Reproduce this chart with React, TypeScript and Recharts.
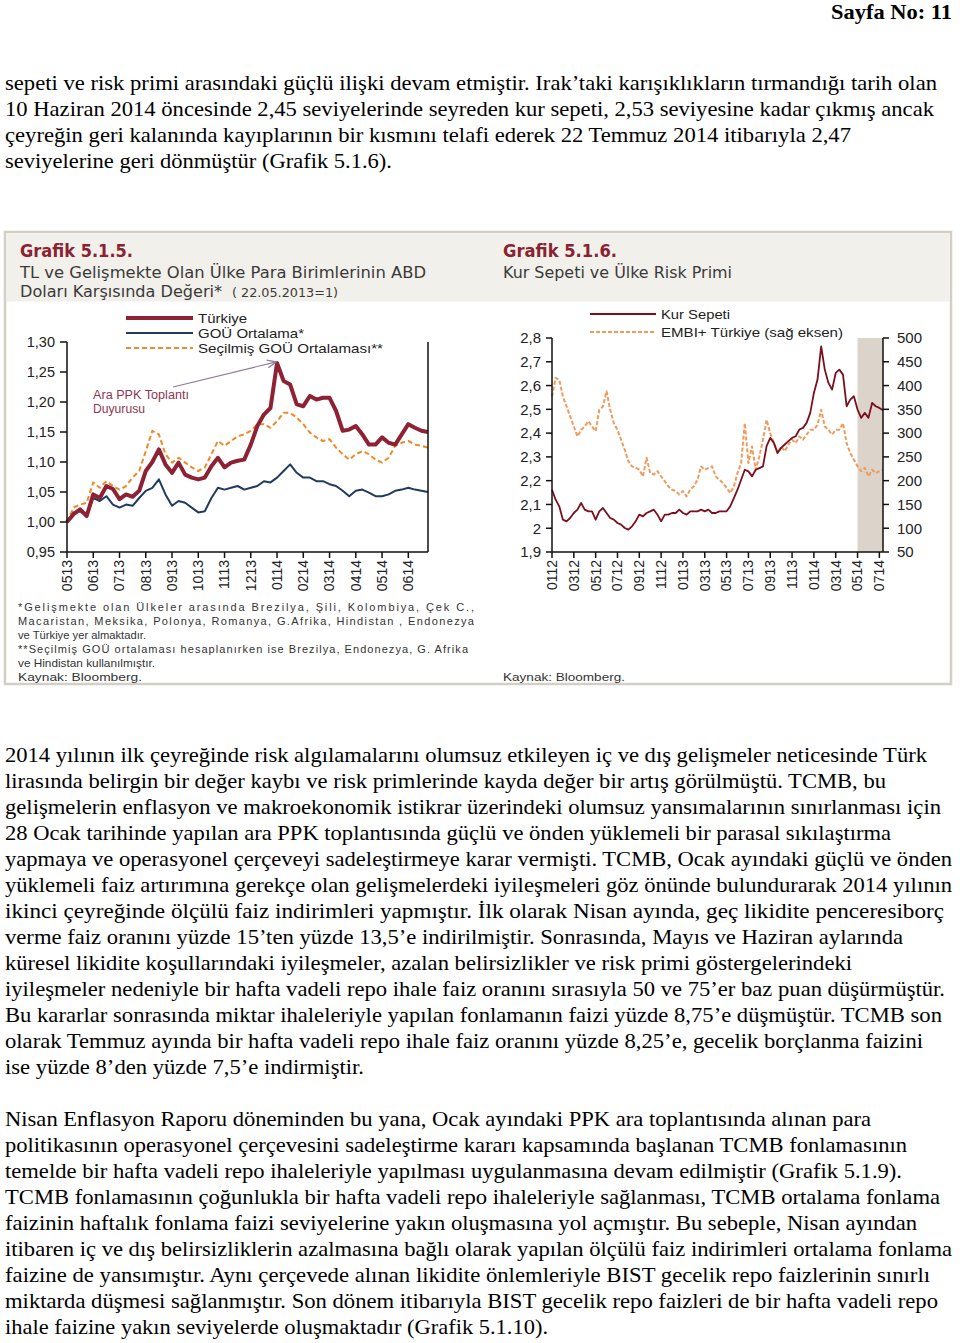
import React from 'react';
import { LineChart, Line, XAxis, YAxis, ReferenceArea, ReferenceLine } from 'recharts';

// Grafik 5.1.5 - weekly readings, 22.05.2013 = 1
const leftMonths = ['0513', '0613', '0713', '0813', '0913', '1013', '1113', '1213', '0114', '0214', '0314', '0414', '0514', '0614'];
const leftStep = 4;
const turkiye = [
  1.000, 1.013, 1.021, 1.010, 1.046, 1.040, 1.060, 1.055, 1.038, 1.046,
  1.042, 1.052, 1.085, 1.100, 1.121, 1.096, 1.082, 1.099, 1.079, 1.074,
  1.071, 1.074, 1.093, 1.107, 1.091, 1.099, 1.102, 1.104, 1.129, 1.160,
  1.179, 1.190, 1.265, 1.235, 1.229, 1.196, 1.193, 1.210, 1.204, 1.207,
  1.207, 1.185, 1.152, 1.154, 1.160, 1.146, 1.129, 1.129, 1.141, 1.132,
  1.129, 1.146, 1.163, 1.157, 1.152, 1.150,
];
const gouOrtalama = [
  1.000, 1.016, 1.018, 1.010, 1.040, 1.035, 1.043, 1.029, 1.024, 1.029,
  1.027, 1.040, 1.052, 1.057, 1.071, 1.046, 1.027, 1.035, 1.032, 1.024,
  1.016, 1.018, 1.040, 1.057, 1.054, 1.057, 1.060, 1.054, 1.057, 1.060,
  1.068, 1.066, 1.074, 1.085, 1.096, 1.082, 1.074, 1.074, 1.068, 1.068,
  1.063, 1.060, 1.052, 1.043, 1.052, 1.054, 1.049, 1.043, 1.043, 1.046,
  1.052, 1.054, 1.057, 1.054, 1.052, 1.050,
];
const secilmisGou = [
  1.000, 1.024, 1.029, 1.032, 1.066, 1.057, 1.068, 1.060, 1.054, 1.060,
  1.074, 1.085, 1.118, 1.152, 1.146, 1.113, 1.099, 1.107, 1.099, 1.091,
  1.085, 1.091, 1.113, 1.135, 1.127, 1.135, 1.143, 1.146, 1.152, 1.163,
  1.163, 1.157, 1.168, 1.182, 1.182, 1.174, 1.163, 1.149, 1.141, 1.135,
  1.138, 1.124, 1.113, 1.104, 1.113, 1.118, 1.113, 1.104, 1.099, 1.107,
  1.127, 1.132, 1.135, 1.129, 1.127, 1.124,
];
const leftValueTicks = [0.95, 1.0, 1.05, 1.1, 1.15, 1.2, 1.25, 1.3];

// Grafik 5.1.6 - three readings per month
const rightMonths = ['0112', '0312', '0512', '0712', '0912', '1112', '0113', '0313', '0513', '0713', '0913', '1113', '0114', '0314', '0514', '0714'];
const rightStep = 6;
const kurSepeti = [
  2.162, 2.120, 2.092, 2.036, 2.029, 2.043, 2.064, 2.078, 2.106, 2.078,
  2.071, 2.071, 2.036, 2.071, 2.085, 2.064, 2.043, 2.036, 2.022, 2.015,
  2.001, 1.994, 2.008, 2.029, 2.057, 2.050, 2.064, 2.071, 2.078, 2.057,
  2.029, 2.057, 2.057, 2.064, 2.064, 2.078, 2.064, 2.057, 2.071, 2.071,
  2.071, 2.078, 2.071, 2.078, 2.064, 2.064, 2.071, 2.071, 2.071, 2.092,
  2.127, 2.162, 2.204, 2.246, 2.239, 2.218, 2.246, 2.253, 2.260, 2.345,
  2.380, 2.359, 2.317, 2.338, 2.352, 2.366, 2.380, 2.387, 2.415, 2.422,
  2.443, 2.485, 2.569, 2.625, 2.765, 2.667, 2.611, 2.583, 2.653, 2.667,
  2.646, 2.513, 2.541, 2.555, 2.499, 2.464, 2.485, 2.464, 2.527, 2.513,
  2.506, 2.496,
];
const embiTurkiye = [
  377, 416, 412, 377, 356, 335, 314, 293, 307, 314,
  325, 314, 304, 349, 356, 388, 349, 321, 307, 286,
  265, 241, 230, 227, 223, 209, 248, 216, 213, 220,
  209, 199, 188, 181, 178, 171, 178, 167, 181, 188,
  202, 230, 223, 227, 230, 209, 202, 195, 185, 174,
  188, 216, 237, 321, 237, 272, 223, 251, 286, 328,
  300, 279, 258, 272, 262, 276, 286, 279, 293, 286,
  297, 307, 307, 318, 349, 314, 307, 297, 307, 307,
  321, 279, 258, 244, 230, 220, 227, 209, 223, 216,
  220, 223,
];
const kurTicks = [1.9, 2.0, 2.1, 2.2, 2.3, 2.4, 2.5, 2.6, 2.7, 2.8];
const embiTicks = [50, 100, 150, 200, 250, 300, 350, 400, 450, 500];
const shadedFrom = '0514';

const leftData = turkiye.map((v, i) => ({ i, tr: v, gou: gouOrtalama[i], sec: secilmisGou[i] }));
const rightData = kurSepeti.map((v, i) => ({ i, kur: v, embi: embiTurkiye[i] }));

const leftSeries = [
  { key: 'tr', name: 'Türkiye', color: '#8e2234', width: 4, dash: undefined, textEnd: 247 },
  { key: 'gou', name: 'GOÜ Ortalama*', color: '#213b5e', width: 2, dash: undefined, textEnd: 304 },
  { key: 'sec', name: 'Seçilmiş GOÜ Ortalaması**', color: '#ee8a2b', width: 2, dash: '5 3', textEnd: 383 },
];
const rightSeries = [
  { key: 'kur', name: 'Kur Sepeti', color: '#7c0f1c', width: 1.8, dash: undefined, axis: 'l', textEnd: 730 },
  { key: 'embi', name: 'EMBI+ Türkiye (sağ eksen)', color: '#ef9b5c', width: 2, dash: '4 2', axis: 'r', textEnd: 843 },
];

const para1 = [
  ['sepeti ve risk primi arasındaki güçlü ilişki devam etmiştir. Irak’taki karışıklıkların tırmandığı tarih olan', 937],
  ['10 Haziran 2014 öncesinde 2,45 seviyelerinde seyreden kur sepeti, 2,53 seviyesine kadar çıkmış ancak', 934],
  ['çeyreğin geri kalanında kayıplarının bir kısmını telafi ederek 22 Temmuz 2014 itibarıyla 2,47', 851],
  ['seviyelerine geri dönmüştür (Grafik 5.1.6).', 392],
];
const para2 = [
  ['2014 yılının ilk çeyreğinde risk algılamalarını olumsuz etkileyen iç ve dış gelişmeler neticesinde Türk', 927],
  ['lirasında belirgin bir değer kaybı ve risk primlerinde kayda değer bir artış görülmüştü. TCMB, bu', 886],
  ['gelişmelerin enflasyon ve makroekonomik istikrar üzerindeki olumsuz yansımalarının sınırlanması için', 941],
  ['28 Ocak tarihinde yapılan ara PPK toplantısında güçlü ve önden yüklemeli bir parasal sıkılaştırma', 891],
  ['yapmaya ve operasyonel çerçeveyi sadeleştirmeye karar vermişti. TCMB, Ocak ayındaki güçlü ve önden', 952],
  ['yüklemeli faiz artırımına gerekçe olan gelişmelerdeki iyileşmeleri göz önünde bulundurarak 2014 yılının', 952],
  ['ikinci çeyreğinde ölçülü faiz indirimleri yapmıştır. İlk olarak Nisan ayında, geç likidite penceresiborç', 944],
  ['verme faiz oranını yüzde 15’ten yüzde 13,5’e indirilmiştir. Sonrasında, Mayıs ve Haziran aylarında', 903],
  ['küresel likidite koşullarındaki iyileşmeler, azalan belirsizlikler ve risk primi göstergelerindeki', 852],
  ['iyileşmeler nedeniyle bir hafta vadeli repo ihale faiz oranını sırasıyla 50 ve 75’er baz puan düşürmüştür.', 945],
  ['Bu kararlar sonrasında miktar ihaleleriyle yapılan fonlamanın faizi yüzde 8,75’e düşmüştür. TCMB son', 942],
  ['olarak Temmuz ayında bir hafta vadeli repo ihale faiz oranını yüzde 8,25’e, gecelik borçlanma faizini', 923],
  ['ise yüzde 8’den yüzde 7,5’e indirmiştir.', 364],
];
const para3 = [
  ['Nisan Enflasyon Raporu döneminden bu yana, Ocak ayındaki PPK ara toplantısında alınan para', 871],
  ['politikasının operasyonel çerçevesini sadeleştirme kararı kapsamında başlanan TCMB fonlamasının', 907],
  ['temelde bir hafta vadeli repo ihaleleriyle yapılması uygulanmasına devam edilmiştir (Grafik 5.1.9).', 902],
  ['TCMB fonlamasının çoğunlukla bir hafta vadeli repo ihaleleriyle sağlanması, TCMB ortalama fonlama', 940],
  ['faizinin haftalık fonlama faizi seviyelerine yakın oluşmasına yol açmıştır. Bu sebeple, Nisan ayından', 917],
  ['itibaren iç ve dış belirsizliklerin azalmasına bağlı olarak yapılan ölçülü faiz indirimleri ortalama fonlama', 952],
  ['faizine de yansımıştır. Aynı çerçevede alınan likidite önlemleriyle BIST gecelik repo faizlerinin sınırlı', 930],
  ['miktarda düşmesi sağlanmıştır. Son dönem itibarıyla BIST gecelik repo faizleri de bir hafta vadeli repo', 938],
  ['ihale faizine yakın seviyelerde oluşmaktadır (Grafik 5.1.10).', 548],
];
// [text, right edge, justified]
const leftNotes = [
  ['*Gelişmekte olan Ülkeler arasında Brezilya, Şili, Kolombiya, Çek C.,', 474, true],
  ['Macaristan, Meksika, Polonya, Romanya, G.Afrika, Hindistan , Endonezya', 474, true],
  ['ve Türkiye yer almaktadır.', 146, false],
  ['**Seçilmiş GOÜ ortalaması hesaplanırken ise Brezilya, Endonezya, G. Afrika', 468, true],
  ['ve Hindistan kullanılmıştır.', 155, false],
  ['Kaynak: Bloomberg.', 142, false],
];

const serif = '"Liberation Serif", "Times New Roman", serif';
const sans = '"Liberation Sans", Arial, sans-serif';
const gothic = '"DejaVu Sans", sans-serif';
const titleRed = '#8b2232';

const Prose = ({ lines, y0 }: { lines: (string | number)[][]; y0: number }) => (
  <>
    {lines.map(([t, end], k) => (
      <text key={k} x={5} y={y0 + 26 * k} textLength={(end as number) - 5} lengthAdjust="spacingAndGlyphs"
        fontFamily={serif} fontSize={21} fill="#000">{t}</text>
    ))}
  </>
);

const RotTick = ({ x, y, payload, labels, step, size }: any) => {
  const label = labels[Math.round(payload.value / step)];
  return (
    <text x={x} y={y} transform={`rotate(-90, ${x}, ${y})`} textAnchor="end" dy="0.35em"
      fontFamily={sans} fontSize={size} fill="#222">{label}</text>
  );
};

const ArrowNote = (props: any) => {
  const { x1, y1, x2, y2 } = props;
  const a = Math.atan2(y2 - y1, x2 - x1);
  const L = 10;
  const p1 = `${x2 - L * Math.cos(a - 0.4)},${y2 - L * Math.sin(a - 0.4)}`;
  const p2 = `${x2 - L * Math.cos(a + 0.4)},${y2 - L * Math.sin(a + 0.4)}`;
  return (
    <g>
      <line x1={x1} y1={y1} x2={x2} y2={y2} stroke="#8c7c98" strokeWidth={1.2} />
      <polyline points={`${p1} ${x2},${y2} ${p2}`} fill="none" stroke="#8c7c98" strokeWidth={1.2} />
      <text x={x1 - 80} y={y1 + 12} textLength={96} lengthAdjust="spacingAndGlyphs" fontFamily={sans} fontSize={12.5} fill="#8d3552">Ara PPK Toplantı</text>
      <text x={x1 - 80} y={y1 + 26} textLength={52} lengthAdjust="spacingAndGlyphs" fontFamily={sans} fontSize={12.5} fill="#8d3552">Duyurusu</text>
    </g>
  );
};

const axisStroke = { stroke: '#111', strokeWidth: 1.5 };

const LeftChart = () => (
  <LineChart width={490} height={300} data={leftData} margin={{ top: 42, right: 2, bottom: 3, left: 7 }}>
    <XAxis type="number" dataKey="i" domain={[0, leftData.length - 1]} ticks={leftMonths.map((_, k) => k * leftStep)}
      axisLine={axisStroke} tickLine={axisStroke} tickSize={6} tickMargin={2} height={45} interval={0}
      tick={(p: any) => <RotTick {...p} labels={leftMonths} step={leftStep} size={14} />} />
    <YAxis yAxisId="l" domain={[0.95, 1.3]} ticks={leftValueTicks} width={60} interval={0}
      axisLine={axisStroke} tickLine={axisStroke} tickSize={7} tickMargin={5}
      tick={{ fontFamily: sans, fontSize: 14.5, fill: '#222' }} tickFormatter={(v: number) => v.toFixed(2).replace('.', ',')} />
    <YAxis yAxisId="r" orientation="right" domain={[0.95, 1.3]} ticks={leftValueTicks} width={60} interval={0}
      axisLine={axisStroke} tickLine={axisStroke} tickSize={7} tickMargin={3}
      tick={{ fontFamily: sans, fontSize: 14.5, fill: '#222', textAnchor: 'start' }} tickFormatter={(v: number) => v.toFixed(2).replace('.', ',')} />
    {[...leftSeries].reverse().map((s) => (
      <Line key={s.key} yAxisId="l" type="linear" dataKey={s.key} name={s.name} stroke={s.color} strokeWidth={s.width}
        strokeDasharray={s.dash} dot={false} isAnimationActive={false} strokeLinejoin="round" />
    ))}
    <ReferenceLine yAxisId="l" segment={[{ x: 16.15, y: 1.225 }, { x: 31.9, y: 1.267 }]} shape={ArrowNote} ifOverflow="visible" />
  </LineChart>
);

const RightChart = () => (
  <LineChart width={470} height={300} data={rightData} margin={{ top: 38, right: 17, bottom: 3, left: 7 }}>
    <XAxis type="number" dataKey="i" domain={[0, rightData.length - 1]} ticks={rightMonths.map((_, k) => k * rightStep)}
      axisLine={axisStroke} tickLine={axisStroke} tickSize={6} tickMargin={2} height={45} interval={0}
      tick={(p: any) => <RotTick {...p} labels={rightMonths} step={rightStep} size={14} />} />
    <YAxis yAxisId="l" domain={[1.9, 2.8]} ticks={kurTicks} width={55} interval={0}
      axisLine={axisStroke} tickLine={axisStroke} tickSize={6} tickMargin={5}
      tick={{ fontFamily: sans, fontSize: 15, fill: '#222' }}
      tickFormatter={(v: number) => String(Math.round(v * 10) / 10).replace('.', ',')} />
    <YAxis yAxisId="r" orientation="right" domain={[50, 500]} ticks={embiTicks} width={60} interval={0}
      axisLine={axisStroke} tickLine={axisStroke} tickSize={6} tickMargin={8}
      tick={{ fontFamily: sans, fontSize: 15, fill: '#222', textAnchor: 'start' }} />
    <ReferenceArea yAxisId="l" x1={rightMonths.indexOf(shadedFrom) * rightStep} x2={rightData.length - 1}
      fill="#dcd3ca" fillOpacity={1} stroke="none" />
    {[...rightSeries].reverse().map((s) => (
      <Line key={s.key} yAxisId={s.axis} type="linear" dataKey={s.key} name={s.name} stroke={s.color} strokeWidth={s.width}
        strokeDasharray={s.dash} dot={false} isAnimationActive={false} strokeLinejoin="round" />
    ))}
  </LineChart>
);

const LegendRows = ({ series, x0, x1, ys }: { series: any[]; x0: number; x1: number; ys: number[] }) => (
  <>
    {series.map((s, k) => (
      <g key={s.key}>
        <line x1={x0} x2={x1} y1={ys[k]} y2={ys[k]} stroke={s.color} strokeWidth={s.width} strokeDasharray={s.dash} />
        <text x={x1 + 5} y={ys[k] + 4.5} textLength={s.textEnd - x1 - 5} lengthAdjust="spacingAndGlyphs"
          fontFamily={sans} fontSize={13.5} fill="#222">{s.name}</text>
      </g>
    ))}
  </>
);

export default function App() {
  return (
    <div style={{ position: 'relative', width: 960, height: 1343, background: '#fff', overflow: 'hidden' }}>
      <style>{'body{margin:0}'}</style>
      <svg width={960} height={1343} style={{ position: 'absolute', left: 0, top: 0 }}>
        <text x={831} y={19} textLength={121} lengthAdjust="spacingAndGlyphs" fontFamily={serif} fontWeight="bold" fontSize={21}>Sayfa No: 11</text>
        <Prose lines={para1} y0={90} />

        <rect x={5} y={232} width={946} height={452} fill="#fff" stroke="#d3cfc4" strokeWidth={2.5} />
        <rect x={6.5} y={233.5} width={943} height={68} fill="#f2f0ea" />

        <text x={20} y={257} textLength={113} lengthAdjust="spacingAndGlyphs" fontFamily={gothic} fontWeight="bold" fontSize={17} fill={titleRed}>Grafik 5.1.5.</text>
        <text x={20} y={278} textLength={406} lengthAdjust="spacingAndGlyphs" fontFamily={gothic} fontSize={15} fill="#3a3a3a">TL ve Gelişmekte Olan Ülke Para Birimlerinin ABD</text>
        <text x={20} y={297} textLength={202} lengthAdjust="spacingAndGlyphs" fontFamily={gothic} fontSize={15} fill="#3a3a3a">Doları Karşısında Değeri*</text>
        <text x={232} y={297} textLength={106} lengthAdjust="spacingAndGlyphs" fontFamily={gothic} fontSize={13} fill="#3a3a3a">( 22.05.2013=1)</text>

        <text x={503} y={257} textLength={114} lengthAdjust="spacingAndGlyphs" fontFamily={gothic} fontWeight="bold" fontSize={17} fill={titleRed}>Grafik 5.1.6.</text>
        <text x={503} y={278} textLength={229} lengthAdjust="spacingAndGlyphs" fontFamily={gothic} fontSize={15} fill="#3a3a3a">Kur Sepeti ve Ülke Risk Primi</text>

        <LegendRows series={leftSeries} x0={126} x1={193} ys={[318, 333, 348]} />
        <LegendRows series={rightSeries} x0={590} x1={656} ys={[314, 332]} />

        {leftNotes.map(([t, end, just], k) => (
          <text key={k} x={18} y={611 + 14 * k} textLength={(end as number) - 18}
            lengthAdjust={just ? 'spacing' : 'spacingAndGlyphs'}
            fontFamily={sans} fontSize={11} fill="#333">{t}</text>
        ))}
        <text x={503} y={681} textLength={122} lengthAdjust="spacingAndGlyphs" fontFamily={sans} fontSize={11} fill="#333">Kaynak: Bloomberg.</text>

        <Prose lines={para2} y0={762} />
        <Prose lines={para3} y0={1126} />
      </svg>
      <div style={{ position: 'absolute', left: 0, top: 300 }}>
        <LeftChart />
      </div>
      <div style={{ position: 'absolute', left: 490, top: 300 }}>
        <RightChart />
      </div>
    </div>
  );
}
